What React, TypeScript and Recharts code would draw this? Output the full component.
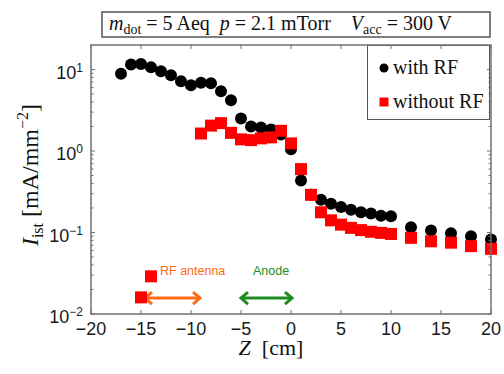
import React from 'react';
import { ScatterChart, Scatter, XAxis, YAxis, ReferenceLine, Legend } from 'recharts';

// ion saturation current along the axis, with and without the RF antenna on
const zWithRF = [-17, -16, -15, -14, -13, -12, -11, -10, -9, -8, -7, -6, -5, -4, -3, -2, -1, 0, 1, 2, 3, 4, 5, 6, 7, 8, 9, 10, 12, 14, 16, 18, 20];
const iWithRF = [8.9, 11.5, 11.7, 10.7, 9.5, 8.5, 7.2, 6.4, 6.9, 6.8, 5.4, 4.2, 2.5, 2.0, 1.95, 1.84, 1.6, 1.05, 0.435, 0.29, 0.252, 0.226, 0.206, 0.19, 0.177, 0.171, 0.161, 0.158, 0.116, 0.106, 0.098, 0.09, 0.082];
const zNoRF = [-15, -14, -9, -8, -7, -6, -5, -4, -3, -2, -1, 0, 1, 2, 3, 4, 5, 6, 7, 8, 9, 10, 12, 14, 16, 18, 20];
const iNoRF = [0.016, 0.029, 1.64, 2.05, 2.2, 1.67, 1.39, 1.36, 1.43, 1.47, 1.77, 1.24, 0.6, 0.29, 0.177, 0.141, 0.125, 0.114, 0.107, 0.102, 0.099, 0.096, 0.086, 0.078, 0.075, 0.068, 0.063];

const seriesNames = ['with RF', 'without RF'];

const zDomain = [-20, 20];
const iDomain = [0.01, 20];
const zTicks = [-20, -15, -10, -5, 0, 5, 10, 15, 20];
const majorTicks = [0.01, 0.1, 1, 10];
const minorTicks = [
  0.02, 0.03, 0.04, 0.05, 0.06, 0.07, 0.08, 0.09,
  0.2, 0.3, 0.4, 0.5, 0.6, 0.7, 0.8, 0.9,
  2, 3, 4, 5, 6, 7, 8, 9,
];

// annotation arrows (z span) and the level they sit at
const antennaSpan = [-14.7, -9];
const anodeSpan = [-5.1, 0.2];
const arrowLevel = 0.0157;

const withRF = zWithRF.map((z, i) => ({ z, i: iWithRF[i] }));
const noRF = zNoRF.map((z, i) => ({ z, i: iNoRF[i] }));

const serif = "'Liberation Serif', 'Times New Roman', serif";
const sans = "'Liberation Sans', Arial, Helvetica, sans-serif";
const frame = '#707070';

// plot area given by the chart margins and axis sizes below
const W = 504;
const H = 374;
const margin = { top: 45, right: 13, bottom: 0, left: 0 };
const yAxisWidth = 91;
const xAxisHeight = 60;
const plotL = margin.left + yAxisWidth;
const plotR = W - margin.right;
const plotT = margin.top;
const plotB = H - margin.bottom - xAxisHeight;

// box edges only (the marks themselves go through recharts' scales)
const edgeX = (z: number) => plotL + ((z - zDomain[0]) / (zDomain[1] - zDomain[0])) * (plotR - plotL);
const edgeY = (v: number) => {
  const lo = Math.log10(iDomain[0]);
  const hi = Math.log10(iDomain[1]);
  return plotB - ((Math.log10(v) - lo) / (hi - lo)) * (plotB - plotT);
};

const Dot = (p: any) => <circle cx={p.cx} cy={p.cy} r={6} fill="#000" />;
const Square = (p: any) => <rect x={p.cx - 6} y={p.cy - 6} width={12} height={12} fill="#ff0000" />;

const XTick = (p: any) => {
  const v = p.payload.value;
  return (
    <text x={p.x} y={p.y} dy={13} textAnchor="middle" fontFamily={sans} fontSize={18} fill="#1a1a1a">
      {v < 0 ? '\u2212' + -v : v}
    </text>
  );
};

const YTick = (p: any) => {
  const e = Math.round(Math.log10(p.payload.value));
  return (
    <text x={p.x} y={p.y} textAnchor="end" fontFamily={sans} fill="#1a1a1a">
      <tspan dy={9} fontSize={18}>10</tspan>
      <tspan dy={-7} fontSize={12}>{e < 0 ? '\u2212' + -e : e}</tspan>
    </text>
  );
};

const arrowShape = (color: string, label: string, dx: number) => (p: any) => {
  const { x1, y1, x2, y2 } = p;
  const l = Math.min(x1, x2);
  const r = Math.max(x1, x2);
  return (
    <g>
      <line x1={l + 1} y1={y1} x2={r - 1} y2={y2} stroke={color} strokeWidth={3} />
      <polyline points={`${l + 8},${y1 - 6} ${l + 1},${y1} ${l + 8},${y1 + 6}`} fill="none" stroke={color} strokeWidth={3} />
      <polyline points={`${r - 8},${y2 - 6} ${r - 1},${y2} ${r - 8},${y2 + 6}`} fill="none" stroke={color} strokeWidth={3} />
      <text x={l + dx} y={y1 - 23} fontFamily={sans} fontSize={12.5} fill={color}>{label}</text>
    </g>
  );
};

const LegendBox = () => (
  <svg width={123} height={75} style={{ display: 'block' }}>
    <rect x={0.5} y={0.5} width={122} height={74} fill="#fff" stroke="#555" strokeWidth={1} />
    <circle cx={17} cy={23} r={4.5} fill="#000" />
    <text x={26} y={29} fontFamily={serif} fontSize={20} fill="#111">{seriesNames[0]}</text>
    <rect x={12.5} y={52.5} width={9} height={9} fill="#ff0000" />
    <text x={26} y={63} fontFamily={serif} fontSize={20} fill="#111">{seriesNames[1]}</text>
  </svg>
);

const PlotBox = () => (
  <g stroke={frame}>
    {zTicks.map((z) => (
      <g key={'z' + z} strokeWidth={1}>
        <line x1={edgeX(z)} y1={plotT} x2={edgeX(z)} y2={plotT + 4} />
        <line x1={edgeX(z)} y1={plotB - 4} x2={edgeX(z)} y2={plotB} />
      </g>
    ))}
    {majorTicks.map((v) => (
      <g key={'M' + v} strokeWidth={1}>
        <line x1={plotL} y1={edgeY(v)} x2={plotL + 4} y2={edgeY(v)} />
        <line x1={plotR - 4} y1={edgeY(v)} x2={plotR} y2={edgeY(v)} />
      </g>
    ))}
    {minorTicks.map((v) => (
      <g key={'m' + v} strokeWidth={1}>
        <line x1={plotL} y1={edgeY(v)} x2={plotL + 2.5} y2={edgeY(v)} />
        <line x1={plotR - 2.5} y1={edgeY(v)} x2={plotR} y2={edgeY(v)} />
      </g>
    ))}
    <rect x={plotL} y={plotT} width={plotR - plotL} height={plotB - plotT} fill="none" strokeWidth={1.5} />
  </g>
);

export default function App() {
  return (
    <div style={{ position: 'absolute', left: 0, top: 0, width: W, height: H, background: '#fff' }}>
      <ScatterChart width={W} height={H} margin={margin}>
        <XAxis
          xAxisId="z" type="number" dataKey="z" domain={zDomain} ticks={zTicks} interval={0}
          height={xAxisHeight} tickSize={-4} tickMargin={12} axisLine={false} tickLine={false}
          tick={<XTick />}
          label={{
            content: () => (
              <text x={271} y={355} textAnchor="middle" fontFamily={serif} fontSize={22} fill="#111">
                <tspan fontStyle="italic">Z</tspan>
                <tspan>{'\u00a0 [cm]'}</tspan>
              </text>
            ),
          }}
        />
        <YAxis
          yAxisId="i" type="number" dataKey="i" scale="log" domain={iDomain} ticks={majorTicks} interval={0}
          width={yAxisWidth} tickSize={-4} tickMargin={12} axisLine={false} tickLine={false}
          tick={<YTick />}
          label={{
            content: () => (
              <text x={38} y={175} transform="rotate(-90 38 175)" textAnchor="middle" fontFamily={serif} fontSize={24} fill="#111">
                <tspan fontStyle="italic">I</tspan>
                <tspan fontSize={16} dy={5}>ist</tspan>
                <tspan dy={-5}>{' [mA/mm'}</tspan>
                <tspan fontSize={16} dy={-10}>{'\u22122'}</tspan>
                <tspan dy={10}>]</tspan>
              </text>
            ),
          }}
        />

        <ReferenceLine
          xAxisId="z" yAxisId="i" ifOverflow="visible"
          segment={[{ x: antennaSpan[0], y: arrowLevel }, { x: antennaSpan[1], y: arrowLevel }]}
          shape={arrowShape('#ff6a13', 'RF antenna', 16)}
        />
        <ReferenceLine
          xAxisId="z" yAxisId="i" ifOverflow="visible"
          segment={[{ x: anodeSpan[0], y: arrowLevel }, { x: anodeSpan[1], y: arrowLevel }]}
          shape={arrowShape('#1e8c1e', 'Anode', 13)}
        />

        <Scatter xAxisId="z" yAxisId="i" name={seriesNames[0]} data={withRF} dataKey="i" shape={Dot} isAnimationActive={false} />
        <Scatter xAxisId="z" yAxisId="i" name={seriesNames[1]} data={noRF} dataKey="i" shape={Square} isAnimationActive={false} />

        <Legend
          layout="vertical" align="center" verticalAlign="middle"
          wrapperStyle={{ left: 367, top: 45, width: 123, height: 75 }}
          content={LegendBox}
        />
      </ScatterChart>

      <svg width={W} height={H} style={{ position: 'absolute', left: 0, top: 0, pointerEvents: 'none' }}>
        <PlotBox />
        <rect x={102} y={12} width={388} height={25} fill="#fff" stroke="#555" strokeWidth={1.5} />
        <text x={109} y={30} fontFamily={serif} fontSize={20} fill="#111">
          <tspan fontStyle="italic">m</tspan>
          <tspan fontSize={14} dy={4}>dot</tspan>
          <tspan dy={-4}>{' = 5 Aeq\u00a0 '}</tspan>
          <tspan fontStyle="italic">p</tspan>
          <tspan>{' = 2.1 mTorr\u00a0\u00a0\u00a0 '}</tspan>
          <tspan fontStyle="italic">V</tspan>
          <tspan fontSize={14} dy={4}>acc</tspan>
          <tspan dy={-4}>{' = 300 V'}</tspan>
        </text>
      </svg>
    </div>
  );
}
